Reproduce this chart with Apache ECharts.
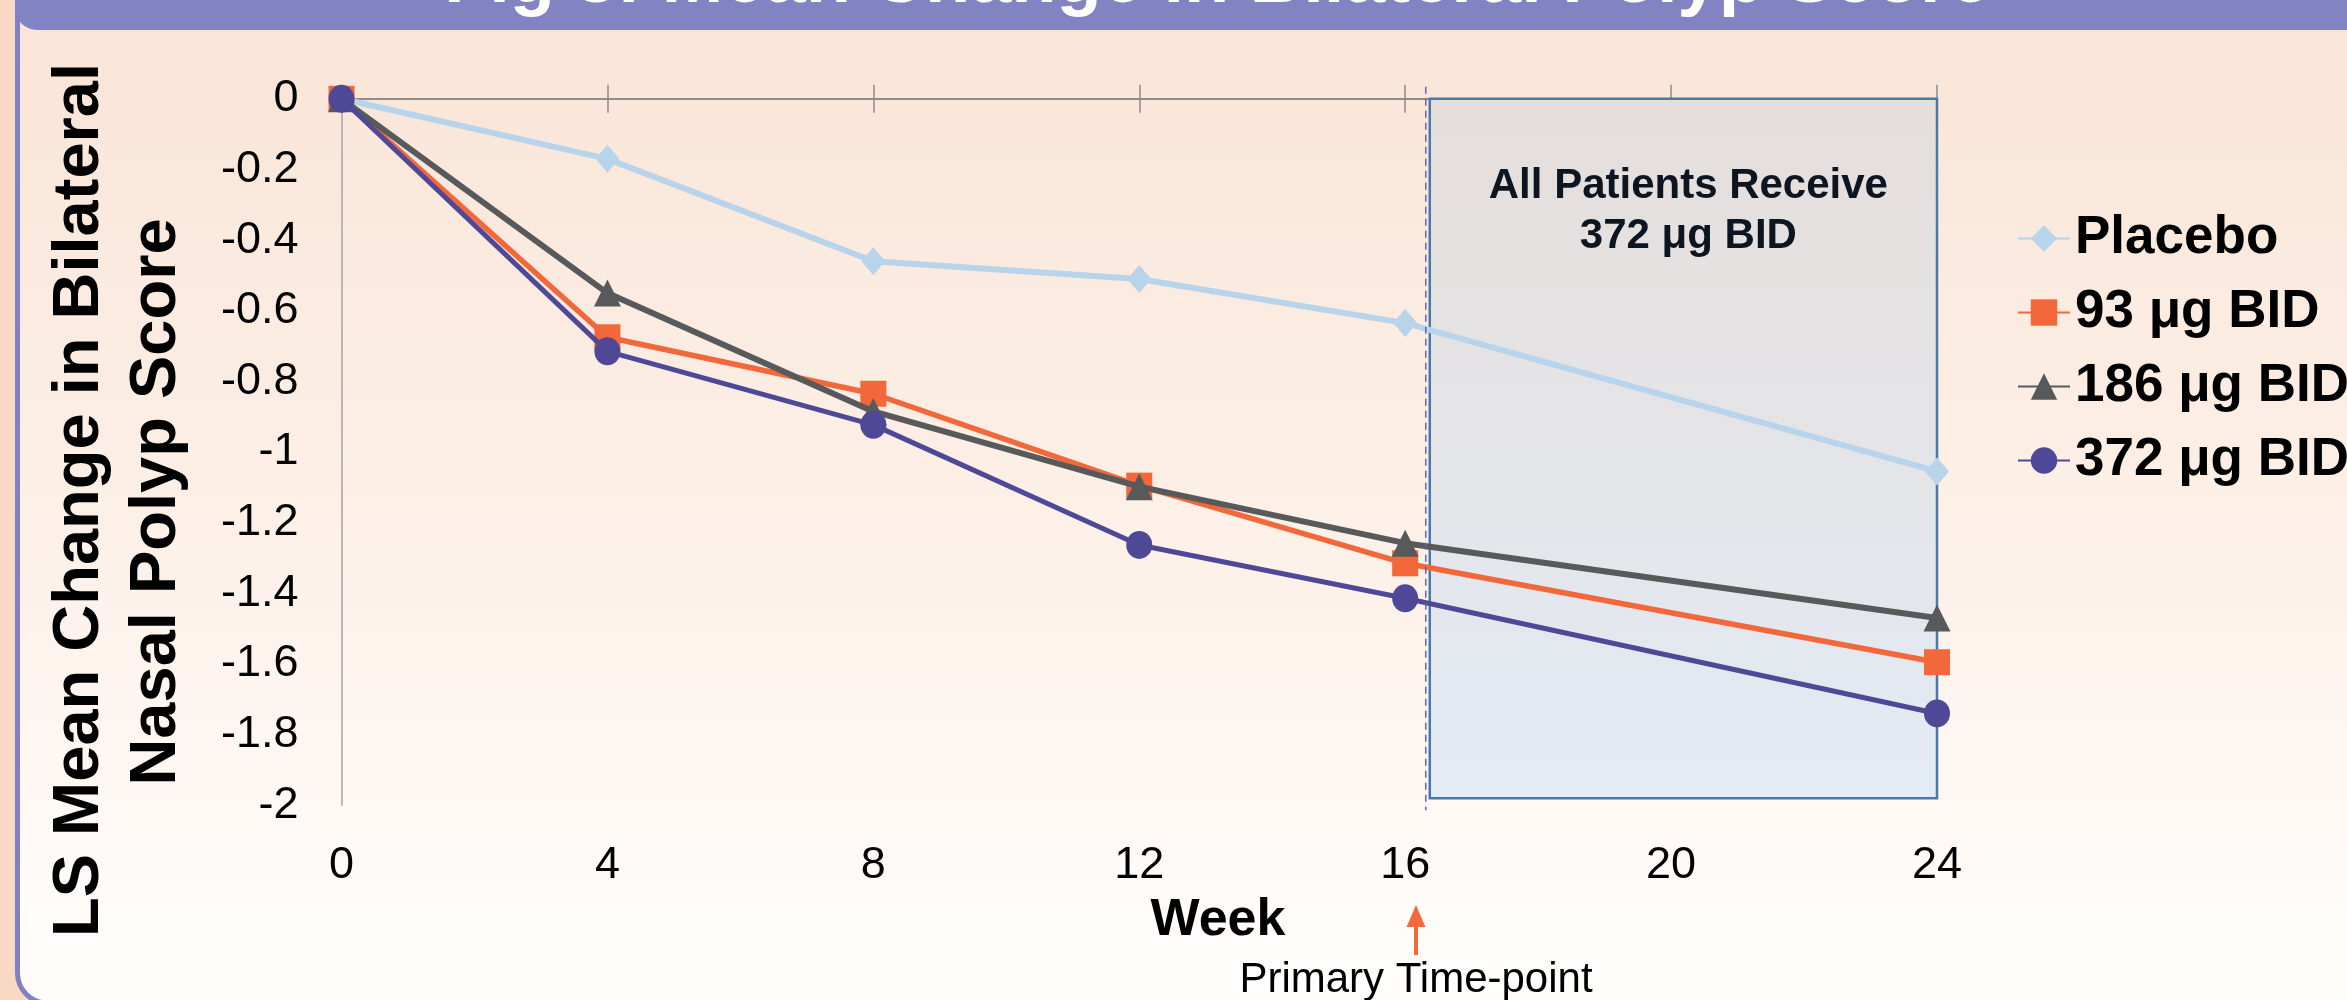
<!DOCTYPE html>
<html>
<head>
<meta charset="utf-8">
<script src="https://cdn.jsdelivr.net/npm/echarts@6/dist/echarts.min.js"></script>
<style>
  html, body { margin: 0; padding: 0; background: #f8d9c3; }
  #chart { width: 2347px; height: 1000px; }
</style>
</head>
<body>
<div id="chart"></div>
<script>
// ---- data ----
const weeks = [0, 4, 8, 12, 16, 24];
const xTicks = [0, 4, 8, 12, 16, 20, 24];
const yTicks = [0, -0.2, -0.4, -0.6, -0.8, -1, -1.2, -1.4, -1.6, -1.8, -2];
const seriesNames = ['Placebo', '93 μg BID', '186 μg BID', '372 μg BID'];
const placebo = [0, -0.17, -0.46, -0.51, -0.635, -1.055];
const dose93 = [0, -0.675, -0.835, -1.095, -1.315, -1.595];
const dose186 = [0, -0.55, -0.885, -1.098, -1.258, -1.47];
const dose372 = [0, -0.715, -0.923, -1.263, -1.414, -1.74];
const openLabelStart = 16.37;   // week where open-label box begins
const primaryWeek = 16.31;      // dashed separator
const boxText = 'All Patients Receive\n372 μg BID';
const titleText = 'Fig 3: Mean Change in Bilateral Polyp Score';
const yTitle = ['LS Mean Change in Bilateral', 'Nasal Polyp Score'];
const xTitle = 'Week';
const noteText = 'Primary Time-point';

const FONT = '"Liberation Sans", Arial, Helvetica, sans-serif';
const chart = echarts.init(document.getElementById('chart'), null, { renderer: 'canvas' });

function pairs(vals) { return weeks.map((w, i) => [w, vals[i]]); }

const xBase = { type: 'value', min: 0, max: 24, interval: 4, splitLine: { show: false } };

const option = {
  animation: false,
  backgroundColor: 'transparent',
  grid: { left: 341.5, right: 410, top: 98.8, bottom: 194.7, containLabel: false },
  xAxis: [
    Object.assign({}, xBase, {
      position: 'bottom',
      axisLine: { show: false }, axisTick: { show: false },
      axisLabel: { show: true, fontSize: 45, color: '#000', fontFamily: FONT, margin: 38 }
    }),
    Object.assign({}, xBase, {
      position: 'top',
      axisLine: { show: true, lineStyle: { color: '#8c8c8c', width: 2 } },
      axisTick: { show: true, length: 14, lineStyle: { color: '#8c8c8c', width: 1.5 } },
      axisLabel: { show: false }
    }),
    Object.assign({}, xBase, {
      position: 'top',
      axisLine: { show: false },
      axisTick: { show: true, inside: true, length: 14, lineStyle: { color: '#8c8c8c', width: 1.5 } },
      axisLabel: { show: false }
    })
  ],
  yAxis: {
    type: 'value', min: -2, max: 0, interval: 0.2,
    axisLine: { show: true, lineStyle: { color: '#a5a5a5', width: 1.5 } },
    axisTick: { show: false },
    splitLine: { show: false },
    axisLabel: { fontSize: 45, color: '#000', fontFamily: FONT, margin: 43 }
  },
  legend: {
    orient: 'vertical', left: 2017, top: 211, padding: 0,
    itemWidth: 52, itemHeight: 33, itemGap: 19,
    data: seriesNames,
    textStyle: { fontSize: 53, fontWeight: 'bold', color: '#000', fontFamily: FONT, lineHeight: 55 }
  },
  series: [
    {
      name: seriesNames[0], type: 'line', data: pairs(placebo), clip: false, z: 3,
      symbol: 'diamond', symbolSize: [24, 28],
      lineStyle: { color: '#b8d4ea', width: 6 }, itemStyle: { color: '#b8d4ea' },
      markArea: {
        silent: true, z: 1,
        itemStyle: {
          color: { type: 'linear', x: 0, y: 0, x2: 0, y2: 1,
            colorStops: [{ offset: 0, color: '#e5dedb' }, { offset: 1, color: '#e3ebf4' }] },
          borderColor: '#4a78a8', borderWidth: 2.5
        },
        label: {
          show: true, position: 'insideTop', distance: 64, offset: [5, 0],
          fontSize: 42, fontWeight: 'bold', color: '#0d1520', fontFamily: FONT,
          lineHeight: 50, align: 'center'
        },
        data: [[{ coord: [openLabelStart, 0], name: boxText }, { coord: [24, -1.98] }]]
      }
    },
    {
      name: seriesNames[1], type: 'line', data: pairs(dose93), clip: false, z: 4,
      symbol: 'rect', symbolSize: 26,
      lineStyle: { color: '#f2683a', width: 5.5 }, itemStyle: { color: '#f2683a' }
    },
    {
      name: seriesNames[2], type: 'line', data: pairs(dose186), clip: false, z: 5,
      symbol: 'triangle', symbolSize: 27,
      lineStyle: { color: '#58595b', width: 6 }, itemStyle: { color: '#58595b' }
    },
    {
      name: seriesNames[3], type: 'line', data: pairs(dose372), clip: false, z: 6,
      symbol: 'circle', symbolSize: [26, 28],
      lineStyle: { color: '#4e4896', width: 5 }, itemStyle: { color: '#4e4896' }
    }
  ]
};
chart.setOption(option);

// ---- decorations / annotations (positions derived from axes where relevant) ----
const topPx = chart.convertToPixel({ gridIndex: 0 }, [primaryWeek, 0]);
const botPx = chart.convertToPixel({ gridIndex: 0 }, [primaryWeek, -2]);

const graphics = [
  { type: 'rect', z: -100, silent: true, shape: { x: 0, y: 0, width: 2347, height: 1000 }, style: { fill: '#f8d9c3' } },
  { type: 'rect', z: -90, silent: true, shape: { x: 17.5, y: -40, width: 2420, height: 1043, r: 30 },
    style: { fill: { type: 'linear', x: 0, y: 0, x2: 0, y2: 1, colorStops: [
      { offset: 0, color: '#f9e3d5' }, { offset: 0.5, color: '#fcefe6' }, { offset: 1, color: '#fffefd' }] },
      stroke: '#8081c2', lineWidth: 5 } },
  { type: 'rect', z: -80, silent: true, shape: { x: 15, y: -60, width: 2420, height: 90, r: 22 }, style: { fill: '#8183c2' } },
  { type: 'text', z: 50, silent: true, x: 1217, y: -18.6,
    style: { text: titleText, fill: '#ffffff', font: 'bold 74px ' + FONT, textAlign: 'center', textVerticalAlign: 'middle' } },
  { type: 'text', z: 50, silent: true, x: 80, y: 500, rotation: Math.PI / 2,
    style: { text: yTitle[0], fill: '#000', font: 'bold 65px ' + FONT, textAlign: 'center', textVerticalAlign: 'middle' } },
  { type: 'text', z: 50, silent: true, x: 157, y: 502, rotation: Math.PI / 2,
    style: { text: yTitle[1], fill: '#000', font: 'bold 65px ' + FONT, textAlign: 'center', textVerticalAlign: 'middle' } },
  { type: 'text', z: 50, silent: true, x: 1218, y: 921,
    style: { text: xTitle, fill: '#000', font: 'bold 52px ' + FONT, textAlign: 'center', textVerticalAlign: 'middle' } },
  { type: 'text', z: 50, silent: true, x: 1416, y: 980,
    style: { text: noteText, fill: '#000', font: '42px ' + FONT, textAlign: 'center', textVerticalAlign: 'middle' } },
  { type: 'line', z: 50, silent: true, shape: { x1: 1416, y1: 922, x2: 1416, y2: 955 },
    style: { stroke: '#f26a3c', lineWidth: 4 } },
  { type: 'polygon', z: 50, silent: true, shape: { points: [[1416, 905], [1406.5, 927], [1425.5, 927]] },
    style: { fill: '#f26a3c' } },
  { type: 'line', z: 10, silent: true,
    shape: { x1: topPx[0], y1: topPx[1] - 12, x2: botPx[0], y2: botPx[1] + 5 },
    style: { stroke: '#6a60b0', lineWidth: 1.5, lineDash: [7, 5] } }
];
chart.setOption({ graphic: graphics });
</script>
</body>
</html>
